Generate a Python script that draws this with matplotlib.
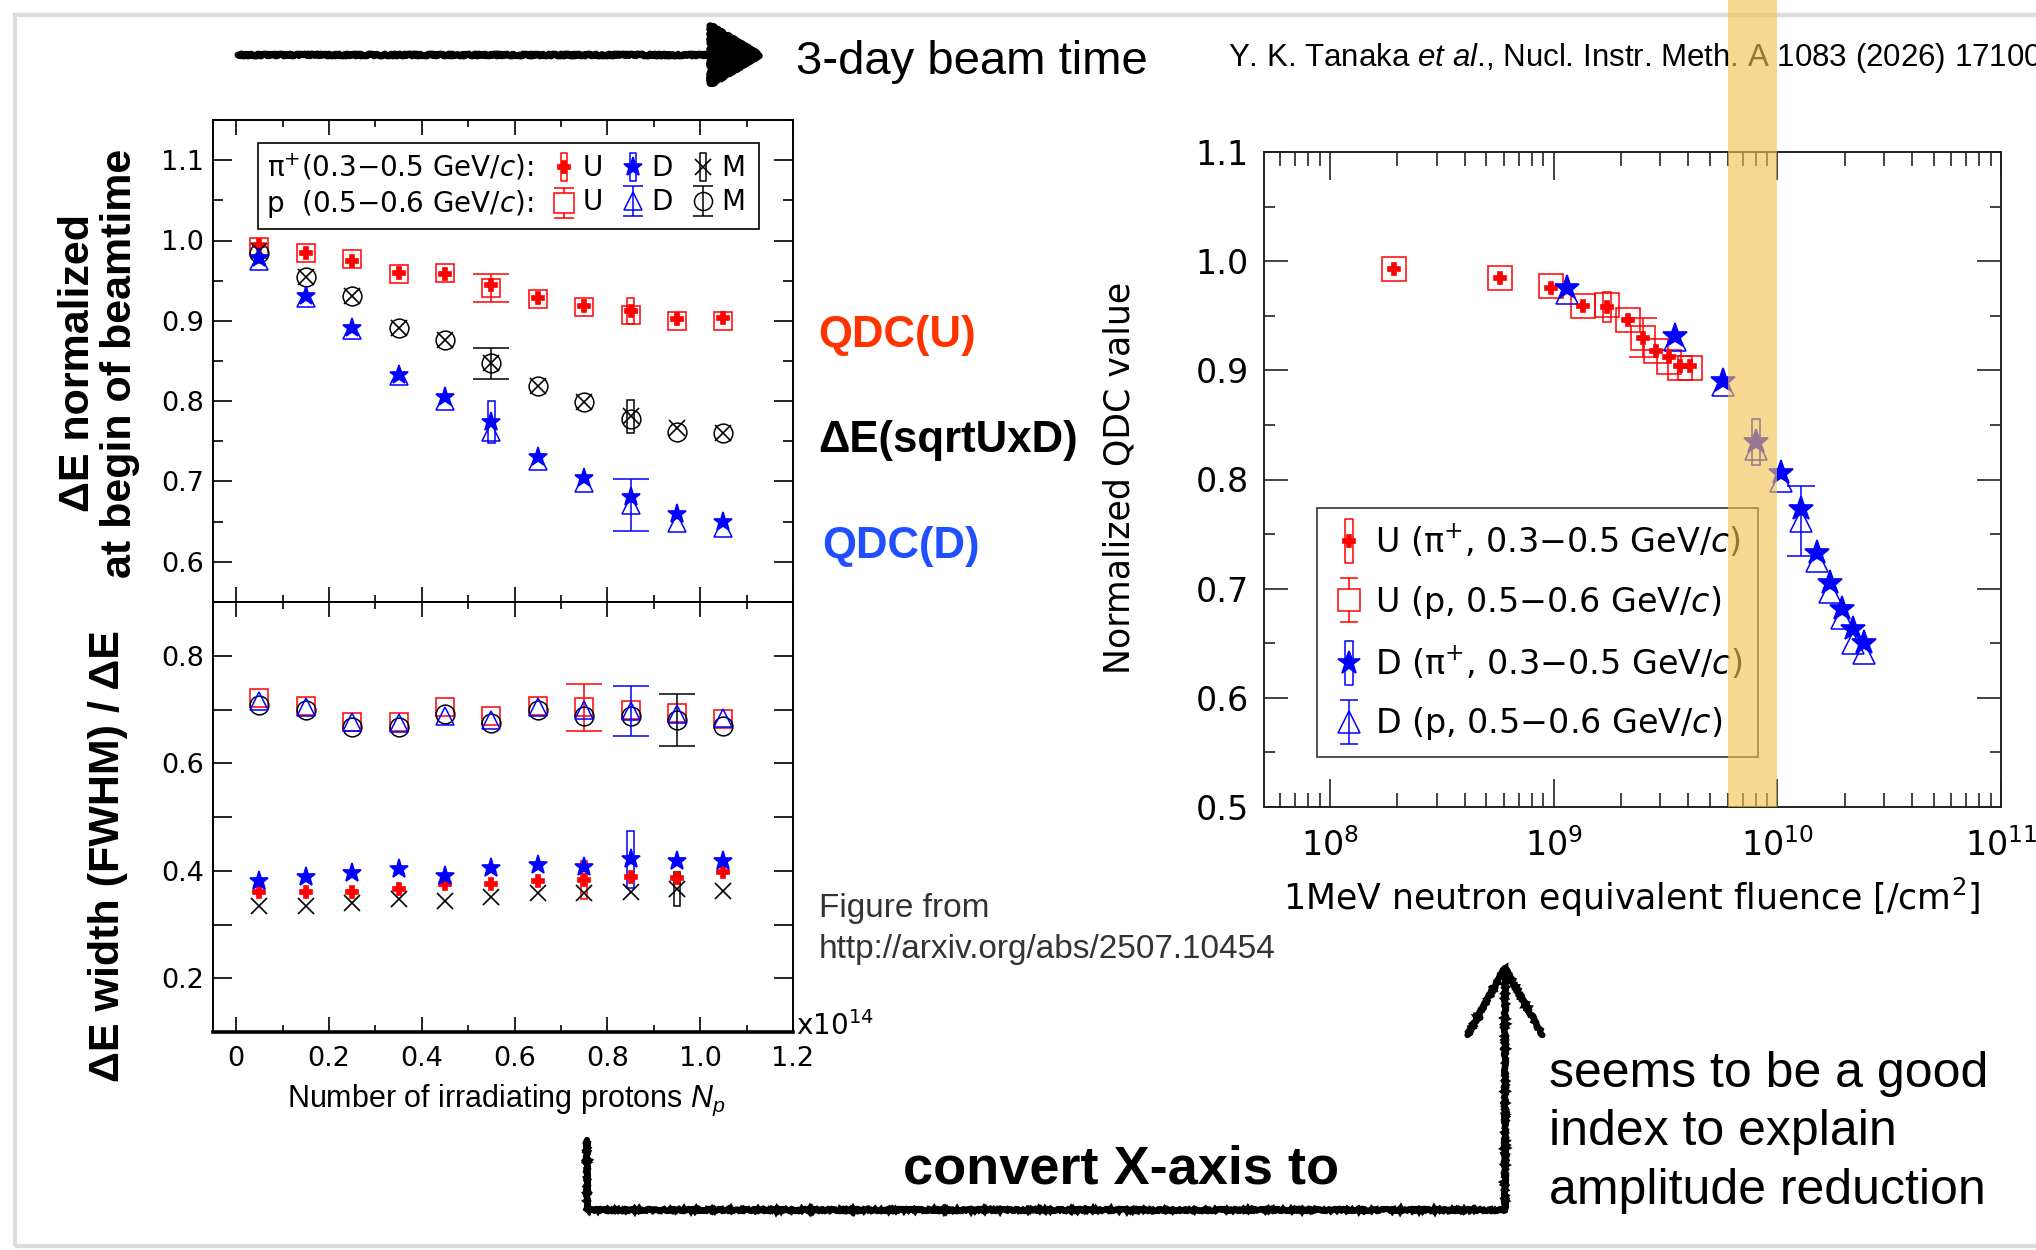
import numpy as np
import matplotlib
matplotlib.use("Agg")
import matplotlib.pyplot as plt
import matplotlib.transforms as mtransforms
from matplotlib.patches import Rectangle, FancyArrowPatch
from matplotlib.path import Path
from matplotlib.lines import Line2D
from matplotlib.ticker import MultipleLocator, FuncFormatter, LogLocator, NullFormatter

plt.rcParams['font.family'] = ['DejaVu Sans']
plt.rcParams['mathtext.rm'] = 'Liberation Sans'
plt.rcParams['mathtext.it'] = 'Liberation Sans:italic'
plt.rcParams['mathtext.bf'] = 'Liberation Sans:bold'
SLIDE = ['Liberation Sans', 'DejaVu Sans']
MINUS = "\u2212"

# ---- left panels: vs number of irradiating protons (x 1e14) ----
n_p = [0.05, 0.15, 0.25, 0.35, 0.45, 0.55, 0.65, 0.75, 0.85, 0.95, 1.05]

# normalized dE (upper panel); err = 0 where the bar hides behind the marker
amp_u_pi = [0.995, 0.985, 0.974, 0.960, 0.958, 0.945, 0.929, 0.918, 0.912, 0.902, 0.904]
amp_u_pi_err = [0, 0, 0, 0, 0, 0, 0, 0, 0.016, 0, 0]
amp_u_p = [0.992, 0.985, 0.977, 0.958, 0.959, 0.941, 0.927, 0.917, 0.907, 0.900, 0.900]
amp_u_p_err = [0, 0, 0, 0, 0, 0.017, 0, 0, 0, 0, 0]
amp_d_pi = [0.978, 0.931, 0.891, 0.833, 0.805, 0.774, 0.730, 0.704, 0.681, 0.660, 0.649]
amp_d_pi_err = [0, 0, 0, 0, 0, 0.026, 0, 0, 0, 0, 0]
amp_d_p = [0.974, 0.929, 0.888, 0.831, 0.800, 0.762, 0.725, 0.698, 0.671, 0.648, 0.642]
amp_d_p_err = [0, 0, 0, 0, 0, 0, 0, 0, 0.032, 0, 0]
amp_m_pi = [0.987, 0.955, 0.931, 0.891, 0.876, 0.848, 0.819, 0.799, 0.781, 0.766, 0.760]
amp_m_pi_err = [0, 0, 0, 0, 0, 0, 0, 0, 0.021, 0, 0]
amp_m_p = [0.985, 0.955, 0.931, 0.891, 0.876, 0.847, 0.819, 0.799, 0.778, 0.762, 0.760]
amp_m_p_err = [0, 0, 0, 0, 0, 0.019, 0, 0, 0, 0, 0]

# dE width (FWHM) / dE (lower panel)
wid_u_p = [0.721, 0.707, 0.677, 0.677, 0.704, 0.687, 0.707, 0.704, 0.700, 0.694, 0.683]
wid_u_p_err = [0, 0, 0, 0, 0, 0, 0, 0.044, 0, 0, 0]
wid_d_p = [0.716, 0.705, 0.677, 0.674, 0.688, 0.681, 0.705, 0.699, 0.697, 0.691, 0.685]
wid_d_p_err = [0, 0, 0, 0, 0, 0, 0, 0, 0.046, 0, 0]
wid_m_p = [0.708, 0.700, 0.668, 0.668, 0.691, 0.674, 0.700, 0.688, 0.688, 0.681, 0.669]
wid_m_p_err = [0, 0, 0, 0, 0, 0, 0, 0, 0, 0.048, 0]
wid_d_pi = [0.381, 0.388, 0.395, 0.403, 0.390, 0.406, 0.411, 0.407, 0.421, 0.419, 0.419]
wid_d_pi_err = [0, 0, 0, 0, 0, 0, 0, 0, 0.053, 0, 0]
wid_u_pi = [0.360, 0.360, 0.360, 0.366, 0.376, 0.376, 0.381, 0.383, 0.388, 0.386, 0.397]
wid_u_pi_err = [0, 0, 0, 0, 0, 0, 0, 0.036, 0, 0, 0]
wid_m_pi = [0.335, 0.335, 0.340, 0.347, 0.343, 0.352, 0.358, 0.358, 0.361, 0.366, 0.362]
wid_m_pi_err = [0, 0, 0, 0, 0, 0, 0, 0, 0, 0.031, 0]

# ---- right panel: vs 1 MeV neutron equivalent fluence ----
flu_u = [1.94e8, 5.78e8, 9.7e8, 1.35e9, 1.74e9, 2.14e9, 2.52e9, 2.88e9, 3.28e9, 3.68e9, 4.07e9]
qdc_u_pi = [0.993, 0.985, 0.975, 0.959, 0.958, 0.946, 0.930, 0.918, 0.912, 0.904, 0.904]
qdc_u_pi_err = [0, 0, 0, 0, 0.014, 0, 0, 0, 0, 0, 0]
qdc_u_p = [0.993, 0.985, 0.977, 0.959, 0.960, 0.946, 0.930, 0.918, 0.908, 0.902, 0.902]
qdc_u_p_err = [0, 0, 0, 0, 0, 0, 0.018, 0, 0, 0, 0]
flu_d = [1.15e9, 3.47e9, 5.7e9, 8.05e9, 1.04e10, 1.27e10, 1.50e10, 1.72e10, 1.95e10, 2.18e10, 2.43e10]
qdc_d_pi = [0.975, 0.931, 0.890, 0.834, 0.806, 0.773, 0.733, 0.705, 0.681, 0.663, 0.650]
qdc_d_pi_err = [0, 0, 0, 0.021, 0, 0, 0, 0, 0, 0, 0]
qdc_d_p = [0.971, 0.928, 0.887, 0.828, 0.799, 0.762, 0.725, 0.697, 0.673, 0.650, 0.641]
qdc_d_p_err = [0, 0, 0, 0, 0, 0.032, 0, 0, 0, 0, 0]

# highlighted fluence range
band_lo, band_hi = 6.0e9, 1.0e10

RED, BLUE, BLACK = '#ff0000', '#0000ff', '#000000'

W, H = 2036, 1250


def fx(px):
    return px / W


def fy(py):
    return 1 - py / H


fig = plt.figure(figsize=(W / 100, H / 100), dpi=100)
ax_top = fig.add_axes([fx(213), fy(602), fx(793) - fx(213), fy(120) - fy(602)])
ax_bot = fig.add_axes([fx(213), fy(1032), fx(793) - fx(213), fy(602) - fy(1032)])
ax_r = fig.add_axes([fx(1264), fy(807), fx(2001) - fx(1264), fy(152) - fy(807)])


def pi_series(ax, x, y, err, color, marker, ms, box_w, log=False, z=4):
    x, y, err = np.asarray(x), np.asarray(y), np.asarray(err, dtype=float)
    m = err > 0
    if log:
        ax.bar(x[m] * 10 ** (-box_w), 2 * err[m], width=x[m] * (10 ** box_w - 10 ** (-box_w)),
               bottom=y[m] - err[m], align='edge', fill=False, edgecolor=color, linewidth=1.1, zorder=z - 1)
    else:
        ax.bar(x[m], 2 * err[m], width=box_w, bottom=y[m] - err[m], fill=False,
               edgecolor=color, linewidth=1.1, zorder=z - 1)
    ax.plot(x, y, ls='none', marker=marker, ms=ms, mfc=color, mec=color, mew=1.2, zorder=z)


def p_series(ax, x, y, err, color, marker, ms, cap, z=3):
    x, y, err = np.asarray(x), np.asarray(y), np.asarray(err, dtype=float)
    ax.plot(x, y, ls='none', marker=marker, ms=ms, mfc='none', mec=color, mew=1.1, zorder=z)
    m = err > 0
    ax.errorbar(x[m], y[m], yerr=err[m], fmt='none', ecolor=color, elinewidth=1.1,
                capsize=cap, capthick=1.1, zorder=z)


def box_marker(wrel):
    return Path([(-wrel, -1), (wrel, -1), (wrel, 1), (-wrel, 1), (-wrel, -1)],
                [Path.MOVETO, Path.LINETO, Path.LINETO, Path.LINETO, Path.CLOSEPOLY])


def ibeam_marker(capw):
    return Path([(-capw, 1), (capw, 1), (0, 1), (0, -1), (-capw, -1), (capw, -1)],
                [Path.MOVETO, Path.LINETO, Path.MOVETO, Path.LINETO, Path.MOVETO, Path.LINETO])


def pi_handle(color, marker, ms, box_ms, wrel):
    return (Line2D([], [], ls='none', marker=box_marker(wrel), ms=box_ms, mfc='none', mec=color, mew=1.1),
            Line2D([], [], ls='none', marker=marker, ms=ms, mfc=color, mec=color, mew=1.2))


def p_handle(color, marker, ms, bar_ms, capw, face='none'):
    return (Line2D([], [], ls='none', marker=ibeam_marker(capw), ms=bar_ms, mec=color, mew=1.1),
            Line2D([], [], ls='none', marker=marker, ms=ms, mfc=face, mec=color, mew=1.1))


# ---------------- left upper panel ----------------
p_series(ax_top, n_p, amp_u_p, amp_u_p_err, RED, 's', 13.5, 13)
p_series(ax_top, n_p, amp_m_p, amp_m_p_err, BLACK, 'o', 13.5, 13)
p_series(ax_top, n_p, amp_d_p, amp_d_p_err, BLUE, '^', 12.5, 13)
pi_series(ax_top, n_p, amp_u_pi, amp_u_pi_err, RED, 'P', 8.5, 0.016)
pi_series(ax_top, n_p, amp_m_pi, amp_m_pi_err, BLACK, 'x', 12, 0.016)
pi_series(ax_top, n_p, amp_d_pi, amp_d_pi_err, BLUE, '*', 14, 0.016)

# ---------------- left lower panel ----------------
p_series(ax_bot, n_p, wid_u_p, wid_u_p_err, RED, 's', 13.5, 13)
p_series(ax_bot, n_p, wid_m_p, wid_m_p_err, BLACK, 'o', 13.5, 13)
p_series(ax_bot, n_p, wid_d_p, wid_d_p_err, BLUE, '^', 12.5, 13)
pi_series(ax_bot, n_p, wid_m_pi, wid_m_pi_err, BLACK, 'x', 12, 0.014)
pi_series(ax_bot, n_p, wid_u_pi, wid_u_pi_err, RED, 'P', 8.5, 0.014)
pi_series(ax_bot, n_p, wid_d_pi, wid_d_pi_err, BLUE, '*', 14, 0.014)

fmt_x = FuncFormatter(lambda v, p: '0' if abs(v) < 1e-9 else f'{v:.1f}')
for ax in (ax_top, ax_bot):
    ax.set_xlim(-0.05, 1.2)
    ax.xaxis.set_major_locator(MultipleLocator(0.2))
    ax.xaxis.set_minor_locator(MultipleLocator(0.1))
    ax.xaxis.set_major_formatter(fmt_x)
    ax.tick_params(which='both', direction='in', top=True, right=True, width=1.2, labelsize=19.5, pad=6.5)
    ax.tick_params(axis='x', which='major', length=11, pad=10)
    ax.tick_params(axis='x', which='minor', length=5)
    for s in ax.spines.values():
        s.set_linewidth(1.4)

ax_top.set_ylim(0.55, 1.15)
ax_top.yaxis.set_major_locator(MultipleLocator(0.1))
ax_top.yaxis.set_minor_locator(MultipleLocator(0.05))
ax_top.yaxis.set_major_formatter(FuncFormatter(lambda v, p: f'{v:.1f}'))
ax_top.tick_params(axis='y', which='major', length=14)
ax_top.tick_params(axis='y', which='minor', length=7)
ax_top.tick_params(labelbottom=False)

ax_bot.set_ylim(0.1, 0.9)
ax_bot.yaxis.set_major_locator(MultipleLocator(0.2))
ax_bot.yaxis.set_minor_locator(MultipleLocator(0.1))
ax_bot.yaxis.set_major_formatter(FuncFormatter(lambda v, p: f'{v:.1f}'))
ax_bot.tick_params(axis='y', which='both', length=14)
ax_bot.spines['bottom'].set_linewidth(2.6)
ax_bot.text(1.005, -0.008, r"x10$^{14}$", transform=ax_bot.transAxes, fontsize=20,
            ha='left', va='baseline')

# legend of the left panel (label first, marker after); the frame is drawn separately
blank = Line2D([], [], ls='none')
left_handles = [
    pi_handle(RED, 'P', 8.5, 20, 0.25), p_handle(RED, 's', 14, 21.5, 0.67, face='white'),
    pi_handle(BLUE, '*', 14, 20, 0.25), p_handle(BLUE, '^', 13, 21.5, 0.67),
    pi_handle(BLACK, 'x', 11, 20, 0.25), p_handle(BLACK, 'o', 13, 21.5, 0.67),
    blank, blank,
]
left_labels = [
    r"$\mathrm{\pi}^{+}$(0.3" + MINUS + r"0.5 GeV/$c$):",
    r"p  (0.5" + MINUS + r"0.6 GeV/$c$):",
    "U", "U", "D", "D", "M", "M",
]
LEG_FS, LEG_PAD, LEG_HL = 20, 0.9, 0.4
leg_l = ax_top.legend(left_handles, left_labels, ncol=4, markerfirst=False, loc='upper left',
                      bbox_to_anchor=(0.077, 0.952), borderaxespad=0, fontsize=LEG_FS,
                      handlelength=LEG_HL, handletextpad=LEG_PAD, columnspacing=0.45,
                      labelspacing=0.22, borderpad=0.3, frameon=False)

# ---------------- right panel ----------------
p_series(ax_r, flu_u, qdc_u_p, qdc_u_p_err, RED, 's', 17, 10)
p_series(ax_r, flu_d, qdc_d_p, qdc_d_p_err, BLUE, '^', 16, 10)
pi_series(ax_r, flu_u, qdc_u_pi, qdc_u_pi_err, RED, 'P', 9, 0.018, log=True)
pi_series(ax_r, flu_d, qdc_d_pi, qdc_d_pi_err, BLUE, '*', 18.5, 0.018, log=True)

ax_r.set_xscale('log')
ax_r.set_xlim(10 ** 7.705, 1e11)
ax_r.set_ylim(0.5, 1.1)
ax_r.xaxis.set_major_locator(LogLocator(base=10, numticks=10))
ax_r.xaxis.set_minor_locator(LogLocator(base=10, subs=np.arange(2, 10), numticks=30))
ax_r.xaxis.set_minor_formatter(NullFormatter())
ax_r.yaxis.set_major_locator(MultipleLocator(0.1))
ax_r.yaxis.set_minor_locator(MultipleLocator(0.05))
ax_r.yaxis.set_major_formatter(FuncFormatter(lambda v, p: f'{v:.1f}'))
ax_r.tick_params(which='both', direction='in', top=True, right=True, width=1.2,
                 labelsize=24, color='#222222')
ax_r.tick_params(axis='y', which='major', length=17, pad=11)
ax_r.tick_params(axis='y', which='minor', length=8)
ax_r.tick_params(axis='x', which='major', length=20, pad=15)
ax_r.tick_params(axis='x', which='minor', length=10)
for s in ax_r.spines.values():
    s.set_linewidth(1.4)
    s.set_color('#222222')

right_handles = [
    pi_handle(RED, 'P', 9, 31, 0.19), p_handle(RED, 's', 16.5, 31, 0.4, face='white'),
    pi_handle(BLUE, '*', 17, 31, 0.19), p_handle(BLUE, '^', 16, 31, 0.4),
]
right_labels = [
    r"U ($\mathrm{\pi}^{+}$, 0.3" + MINUS + r"0.5 GeV/$c$)",
    r"U (p, 0.5" + MINUS + r"0.6 GeV/$c$)",
    r"D ($\mathrm{\pi}^{+}$, 0.3" + MINUS + r"0.5 GeV/$c$)",
    r"D (p, 0.5" + MINUS + r"0.6 GeV/$c$)",
]
leg_r = ax_r.legend(right_handles, right_labels, loc='lower left', bbox_to_anchor=(0.072, 0.076),
                    borderaxespad=0, fontsize=24, handlelength=1.0, handletextpad=0.3,
                    labelspacing=0.72, borderpad=0.45, fancybox=False, edgecolor='#333333',
                    framealpha=1)
leg_r.get_frame().set_linewidth(1.2)

# axis titles
fig.text(fx(1119), fy(478), "Normalized QDC value", rotation=90, ha='center', va='center', fontsize=25)
fig.text(fx(1632), fy(897), r"1MeV neutron equivalent fluence [/cm$^{2}$]", ha='center', va='center',
         fontsize=25)
fig.text(fx(506), fy(1100), r"Number of irradiating protons $N_{p}$", ha='center', va='center',
         fontsize=22, family=SLIDE, math_fontfamily='custom')
fig.text(fx(99), fy(363), "\u0394E normalized\nat begin of beamtime", rotation=90, ha='center',
         va='center', multialignment='center', linespacing=1.05, fontsize=31, weight='bold', family=SLIDE)
fig.text(fx(108), fy(856), "\u0394E width (FWHM) / \u0394E", rotation=90, ha='center', va='center',
         fontsize=31, weight='bold', family=SLIDE)

# slide annotations
fig.text(fx(796), fy(74), "3-day beam time", fontsize=34, family=SLIDE, va='baseline')
fig.text(fx(1228), fy(66), r"Y. K. Tanaka $et\ al$., Nucl. Instr. Meth. A 1083 (2026) 17100",
         fontsize=22.5, family=SLIDE, va='baseline', math_fontfamily='custom')
fig.text(fx(818), fy(347), "QDC(U)", fontsize=31.5, weight='bold', color='#ff3300', family=SLIDE,
         va='baseline')
fig.text(fx(818), fy(452), "\u0394E(sqrtUxD)", fontsize=31.5, weight='bold', color='black', family=SLIDE,
         va='baseline')
fig.text(fx(822), fy(558), "QDC(D)", fontsize=31.5, weight='bold', color='#1f4fff', family=SLIDE,
         va='baseline')
fig.text(fx(819), fy(917), "Figure from", fontsize=24, color='#333333', family=SLIDE, va='baseline')
fig.text(fx(819), fy(958), "http://arxiv.org/abs/2507.10454", fontsize=24, color='#333333', family=SLIDE,
         va='baseline')
fig.text(fx(1121), fy(1183), "convert X-axis to", fontsize=39, weight='bold', family=SLIDE,
         ha='center', va='baseline')
for line, base in zip(["seems to be a good", "index to explain", "amplitude reduction"], [1087, 1145, 1204]):
    fig.text(fx(1549), fy(base), line, fontsize=36, family=SLIDE, va='baseline')

# hand-drawn arrows
top_arrow = FancyArrowPatch((fx(238), fy(55)), (fx(766), fy(55)), transform=fig.transFigure,
                            arrowstyle='-|>,head_length=0.7,head_width=0.42', mutation_scale=50,
                            lw=5, color='black', shrinkA=0, shrinkB=0)
top_arrow.set_sketch_params(1.0, 4, 4)
fig.add_artist(top_arrow)

conn = Path([(fx(587), fy(1140)), (fx(587), fy(1210)), (fx(1505), fy(1210)), (fx(1505), fy(962))],
            [Path.MOVETO, Path.LINETO, Path.LINETO, Path.LINETO])
bottom_arrow = FancyArrowPatch(path=conn, transform=fig.transFigure,
                               arrowstyle='->,head_length=0.8,head_width=0.45', mutation_scale=60,
                               lw=4.5, color='black', joinstyle='miter')
bottom_arrow.set_sketch_params(1.0, 4, 4)
fig.add_artist(bottom_arrow)

# slide frame
fig.add_artist(Rectangle((fx(15), fy(1246)), 1.2, fy(15) - fy(1246), transform=fig.transFigure,
                         fill=False, edgecolor='#dcdcdc', lw=3, zorder=-10))

# highlighted band, from figure top down to the right axis bottom
band_tr = mtransforms.blended_transform_factory(ax_r.transData, fig.transFigure)
y0 = ax_r.get_position().y0
fig.add_artist(Rectangle((band_lo, y0), band_hi - band_lo, 1 - y0, transform=band_tr,
                         facecolor='#f2c14e', alpha=0.62, edgecolor='none', zorder=10))

# frame of the left legend, without the empty slot after "M"
fig.canvas.draw()
bb = leg_l.get_window_extent()
trail = (LEG_PAD + LEG_HL) * LEG_FS * fig.dpi / 72 - 6
inv = fig.transFigure.inverted()
(lx0, ly0), (lx1, ly1) = inv.transform([(bb.x0, bb.y0), (bb.x1 - trail, bb.y1)])
fig.add_artist(Rectangle((lx0, ly0), lx1 - lx0, ly1 - ly0, transform=fig.transFigure,
                         fill=False, edgecolor='black', lw=1.2, zorder=5))

fig.savefig("out.png", dpi=100)
